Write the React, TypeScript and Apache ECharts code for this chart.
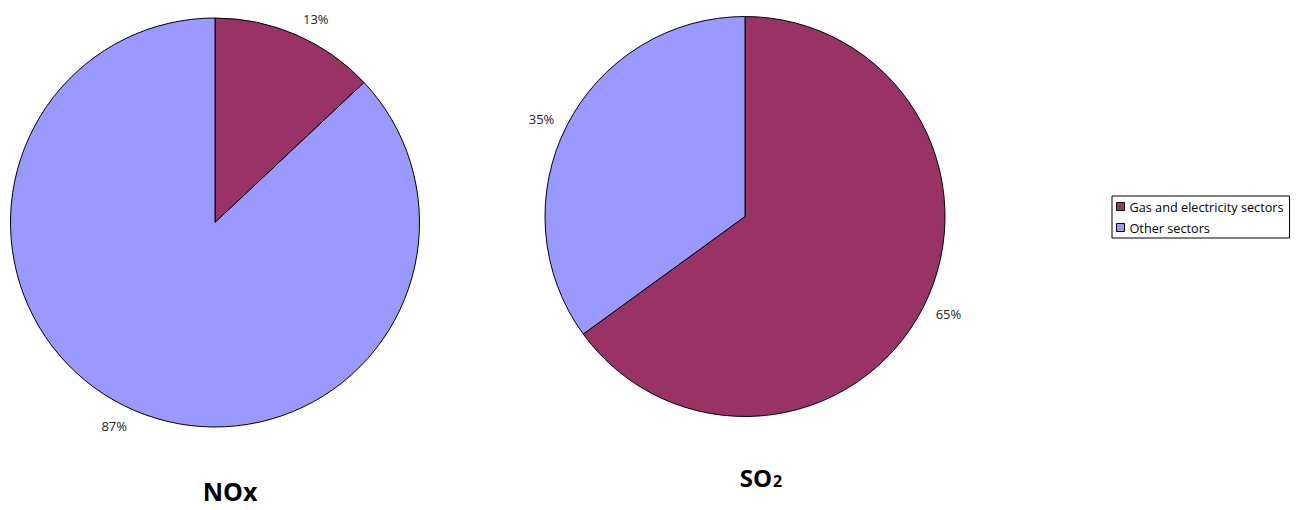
import React, { useEffect, useRef } from "react";
import * as echarts from "echarts";

// Share of emissions by source, in percent
const sectors = ["Gas and electricity sectors", "Other sectors"];
const noxShares = [13, 87];
const so2Shares = [65, 35];
const sectorColors = ["#993366", "#9999FF"];

const FONT = "'Open Sans', 'Noto Sans', sans-serif";

export default function App() {
  const ref = useRef<HTMLDivElement>(null);

  useEffect(() => {
    if (!ref.current) return;
    const chart = echarts.init(ref.current, undefined, { renderer: "svg" });

    const makeData = (vals: number[]) =>
      sectors.map((name, i) => ({
        name,
        value: vals[i],
        itemStyle: { color: sectorColors[i] },
      }));

    const pieBase = {
      type: "pie",
      startAngle: 90,
      clockwise: true,
      avoidLabelOverlap: false,
      itemStyle: { borderColor: "#000", borderWidth: 1 },
      emphasis: { disabled: true },
      label: {
        show: true,
        position: "outside",
        formatter: "{d}%",
        fontFamily: FONT,
        fontSize: 13,
        color: "#222",
        distanceToLabelLine: 0,
      },
    };

    chart.setOption({
      animation: false,
      backgroundColor: "#fff",
      legend: {
        orient: "vertical",
        left: 1112,
        top: 196,
        padding: [4, 6, 4, 4],
        itemGap: 8,
        itemWidth: 8,
        itemHeight: 8,
        icon: "rect",
        borderColor: "#000",
        borderWidth: 1,
        itemStyle: { borderColor: "#000", borderWidth: 1 },
        textStyle: { fontFamily: FONT, fontSize: 12.7, color: "#000" },
        data: sectors,
      },
      graphic: [
        {
          type: "text",
          x: 230,
          y: 491,
          style: {
            text: "NOx",
            font: `bold 25px ${FONT}`,
            fill: "#000",
            textAlign: "center",
            textVerticalAlign: "middle",
          },
        },
        {
          type: "text",
          x: 761,
          y: 477,
          style: {
            text: "{a|SO}{b|2}",
            textAlign: "center",
            textVerticalAlign: "middle",
            rich: {
              a: { fontFamily: FONT, fontWeight: "bold", fontSize: 24, fill: "#000", verticalAlign: "bottom" },
              b: { fontFamily: FONT, fontWeight: "bold", fontSize: 16, fill: "#000", verticalAlign: "bottom", padding: [0, 0, 0, 1] },
            },
          },
        },
      ],
      series: [
        {
          ...pieBase,
          name: "NOx",
          center: [215, 222.5],
          radius: 204.5,
          labelLine: { show: false, length: 17, length2: 0 },
          data: makeData(noxShares),
        },
        {
          ...pieBase,
          name: "SO2",
          center: [745, 216.5],
          radius: 200,
          labelLine: { show: false, length: 14, length2: 0 },
          data: makeData(so2Shares),
        },
      ],
    });

    return () => chart.dispose();
  }, []);

  return (
    <div
      ref={ref}
      style={{ position: "fixed", left: 0, top: 0, width: 1298, height: 510, background: "#fff" }}
    />
  );
}
